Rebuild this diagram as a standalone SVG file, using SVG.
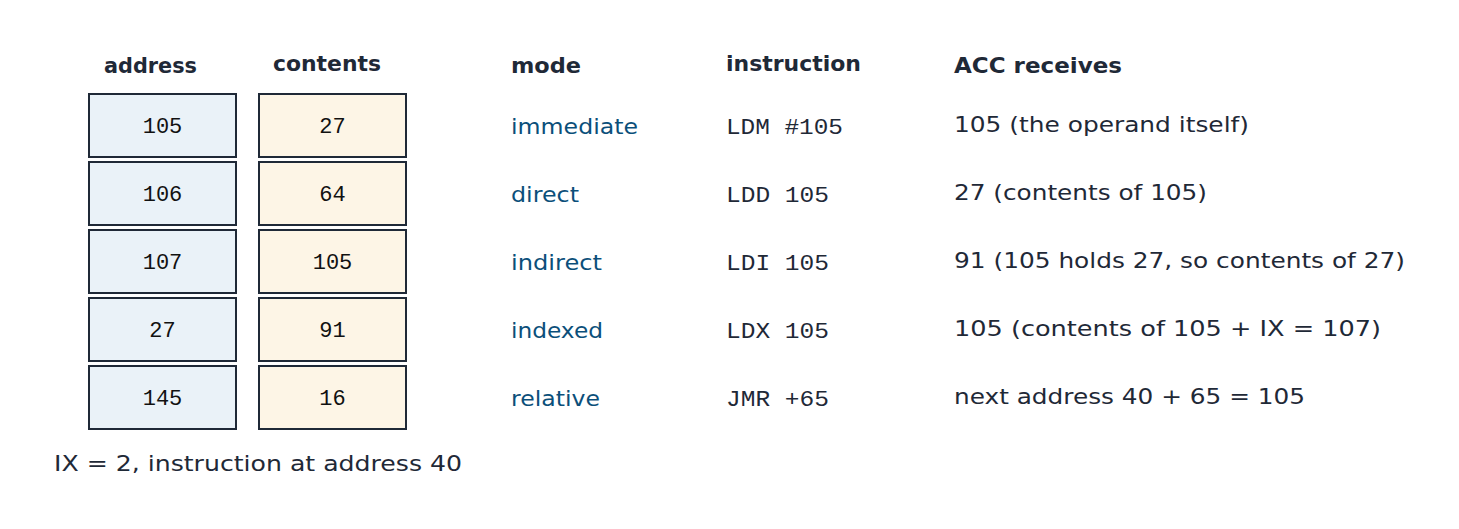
<svg xmlns="http://www.w3.org/2000/svg" width="1459" height="529" viewBox="0 0 1459 529">
<style>
.bg{fill:#ffffff}
.addr rect{fill:#eaf2f8;stroke:#1f2937;stroke-width:2}
.cont rect{fill:#fdf5e6;stroke:#1f2937;stroke-width:2}
.num{font-family:"Liberation Mono","DejaVu Sans Mono",monospace;font-size:22px;fill:#111111;text-anchor:middle}
.hdr{font-family:"DejaVu Sans","Liberation Sans",sans-serif;font-weight:bold;font-size:21px;fill:#1f2937}
.mode{font-family:"DejaVu Sans","Liberation Sans",sans-serif;font-size:22px;fill:#0b4f7a}
.ins{font-family:"Liberation Mono","DejaVu Sans Mono",monospace;font-size:22px;fill:#1f2937}
.acc{font-family:"DejaVu Sans","Liberation Sans",sans-serif;font-size:22px;fill:#1f2937}
</style>
<rect class="bg" x="0" y="0" width="1459" height="529"/>
<g id="headers">
<text class="hdr" x="104" y="73" textLength="93" lengthAdjust="spacingAndGlyphs">address</text>
<text class="hdr" x="273" y="71" textLength="108" lengthAdjust="spacingAndGlyphs">contents</text>
<text class="hdr" x="511" y="73" textLength="70" lengthAdjust="spacingAndGlyphs">mode</text>
<text class="hdr" x="726" y="71" textLength="135" lengthAdjust="spacingAndGlyphs">instruction</text>
<text class="hdr" x="954" y="73" textLength="168" lengthAdjust="spacingAndGlyphs">ACC receives</text>
</g>
<g id="memory">
<g id="cell-105" class="addr"><rect x="89" y="94" width="147" height="63"/><text class="num" x="162.5" y="133">105</text></g>
<g id="cell-106" class="addr"><rect x="89" y="162" width="147" height="63"/><text class="num" x="162.5" y="201">106</text></g>
<g id="cell-107" class="addr"><rect x="89" y="230" width="147" height="63"/><text class="num" x="162.5" y="269">107</text></g>
<g id="cell-27" class="addr"><rect x="89" y="298" width="147" height="63"/><text class="num" x="162.5" y="337">27</text></g>
<g id="cell-145" class="addr"><rect x="89" y="366" width="147" height="63"/><text class="num" x="162.5" y="405">145</text></g>
<g id="val-105" class="cont"><rect x="259" y="94" width="147" height="63"/><text class="num" x="332.5" y="133">27</text></g>
<g id="val-106" class="cont"><rect x="259" y="162" width="147" height="63"/><text class="num" x="332.5" y="201">64</text></g>
<g id="val-107" class="cont"><rect x="259" y="230" width="147" height="63"/><text class="num" x="332.5" y="269">105</text></g>
<g id="val-27" class="cont"><rect x="259" y="298" width="147" height="63"/><text class="num" x="332.5" y="337">91</text></g>
<g id="val-145" class="cont"><rect x="259" y="366" width="147" height="63"/><text class="num" x="332.5" y="405">16</text></g>
</g>
<g id="caption">
<text class="acc" x="54" y="471" textLength="408" lengthAdjust="spacingAndGlyphs">IX = 2, instruction at address 40</text>
</g>
<g id="row-immediate">
<text class="mode" x="511" y="134" textLength="127" lengthAdjust="spacingAndGlyphs">immediate</text>
<text class="ins" x="726" y="134" textLength="117" lengthAdjust="spacingAndGlyphs">LDM #105</text>
<text class="acc" x="954" y="132" textLength="295" lengthAdjust="spacingAndGlyphs">105 (the operand itself)</text>
</g>
<g id="row-direct">
<text class="mode" x="511" y="202" textLength="68" lengthAdjust="spacingAndGlyphs">direct</text>
<text class="ins" x="726" y="202" textLength="103" lengthAdjust="spacingAndGlyphs">LDD 105</text>
<text class="acc" x="954" y="200" textLength="253" lengthAdjust="spacingAndGlyphs">27 (contents of 105)</text>
</g>
<g id="row-indirect">
<text class="mode" x="511" y="270" textLength="91" lengthAdjust="spacingAndGlyphs">indirect</text>
<text class="ins" x="726" y="270" textLength="103" lengthAdjust="spacingAndGlyphs">LDI 105</text>
<text class="acc" x="954" y="268" textLength="451" lengthAdjust="spacingAndGlyphs">91 (105 holds 27, so contents of 27)</text>
</g>
<g id="row-indexed">
<text class="mode" x="511" y="338" textLength="92" lengthAdjust="spacingAndGlyphs">indexed</text>
<text class="ins" x="726" y="338" textLength="103" lengthAdjust="spacingAndGlyphs">LDX 105</text>
<text class="acc" x="954" y="336" textLength="427" lengthAdjust="spacingAndGlyphs">105 (contents of 105 + IX = 107)</text>
</g>
<g id="row-relative">
<text class="mode" x="511" y="406" textLength="89" lengthAdjust="spacingAndGlyphs">relative</text>
<text class="ins" x="726" y="406" textLength="103" lengthAdjust="spacingAndGlyphs">JMR +65</text>
<text class="acc" x="954" y="404" textLength="351" lengthAdjust="spacingAndGlyphs">next address 40 + 65 = 105</text>
</g>
<g id="connectors"></g>
</svg>
